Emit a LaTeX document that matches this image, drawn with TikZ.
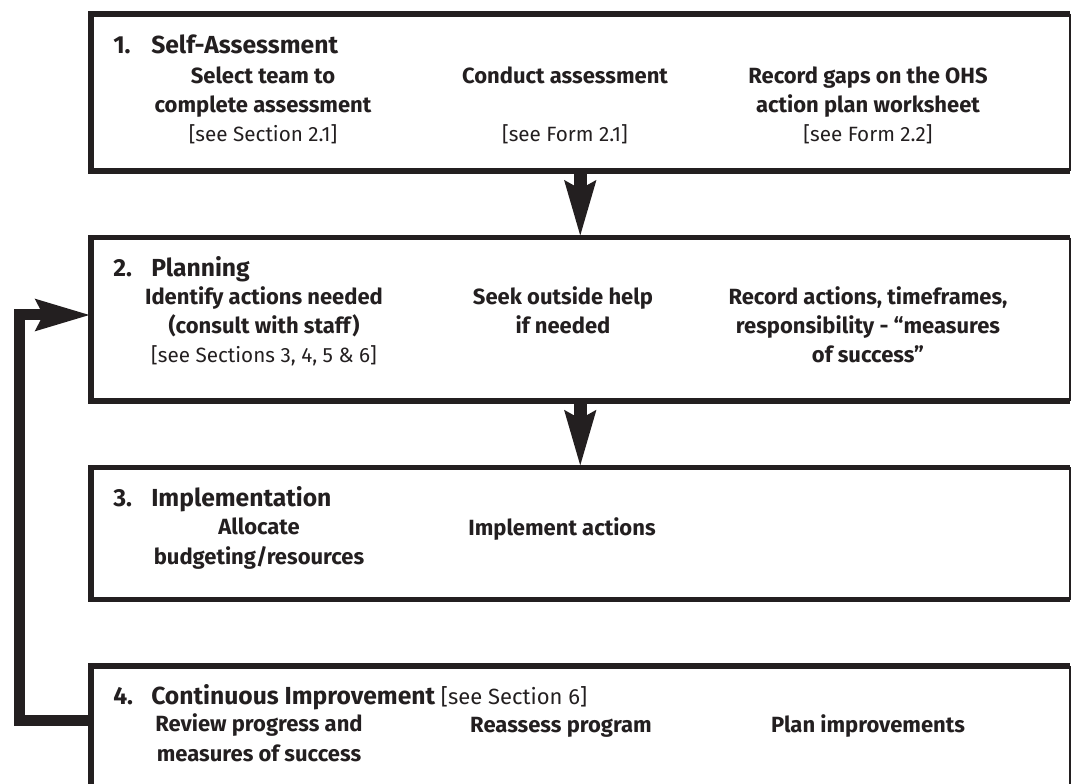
\documentclass[tikz,border=0pt]{standalone}
\usepackage{fontspec}
\setmainfont{Fira Sans}
\usetikzlibrary{arrows.meta,positioning}
\definecolor{ink}{HTML}{231F20}
\newcommand{\seeref}[2][15.5]{{\fontsize{#1}{22}\selectfont\mdseries[see #2]}}
\tikzset{
  stage/.style={minimum width=733.875pt, inner sep=0pt},
  rim/.style={draw=ink, line width=4.3pt},
  edge/.style={draw=ink, line width=1.9pt},
  heading/.style={anchor=base west, inner sep=0pt, font=\fontsize{18.5}{22}\selectfont\bfseries},
  item/.style={anchor=base, inner sep=0pt, align=center, font=\fontsize{16.5}{22}\selectfont\bfseries},
  flow/.style={draw=ink, line width=9.75pt, -{Stealth[length=41.25pt, width=21.75pt, inset=5pt]}},
  back/.style={draw=ink, line width=8.25pt, -{Stealth[length=40.5pt, width=22.5pt, inset=5pt]}},
}

\begin{document}
\begin{tikzpicture}[x=0.75pt, y=-0.75pt, text=ink, node distance=49.75pt]
        \useasboundingbox (0,0) rectangle (1072,784);
        \clip (0,0) rectangle (1072,784);
        \node[stage, minimum height=117.75pt] (self) at (580.25,92.5) {};
        \node[stage, minimum height=122.25pt, below=of self] (plan) {};
        \node[stage, minimum height=98.625pt, below=of plan] (impl) {};
        \node[stage, minimum height=101.625pt, below=of impl] (cont) {};

        \foreach \b in {self,plan,impl,cont} {
          \draw[rim] (\b.north east) -- (\b.north west) -- (\b.south west) -- (\b.south east);
          \draw[edge] (\b.north east) -- (\b.south east);
        }
        \draw[flow] (self.south) -- (plan.north);
        \draw[flow] (plan.south) -- (impl.north);
        \coordinate (low) at (19,720.5);
        \coordinate (high) at (19,315);
        \draw[back] (cont.west |- low) -- (low) -- (high) -- (plan.west |- high);

        % multi-line texts sit on the baseline of their last line
        \node[heading] (selfh) at (113,53.5) {\makebox[28.5pt][l]{1.}Self-Assessment};
        \node[item] (selfa) at (263,142) {Select team to\\complete assessment\\\seeref{Section 2.1}};
        \node[item] (selfb) at (565,142) {Conduct assessment\\[22pt]\seeref{Form 2.1}};
        \node[item] (selfc) at (868,142) {Record gaps on the OHS\\action plan worksheet\\\seeref{Form 2.2}};

        \node[heading] (planh) at (113,277) {\makebox[28.5pt][l]{2.}Planning};
        \node[item] (plana) at (264,363) {Identify actions needed\\(consult with staff)\\\seeref{Sections 3, 4, 5 \& 6}};
        \node[item] (planb) at (563,334) {Seek outside help\\if needed};
        \node[item] (planc) at (868,363) {Record actions, timeframes,\\responsibility - “measures\\of success”};

        \node[heading] (implh) at (113,506) {\makebox[28.5pt][l]{3.}Implementation};
        \node[item] (impla) at (259,564) {Allocate\\budgeting/resources};
        \node[item] (implb) at (562,535) {Implement actions};

        \node[heading] (conth) at (113,704) {\makebox[28.5pt][l]{4.}Continuous Improvement \seeref[16.5]{Section 6}};
        \node[item] (conta) at (259,761) {Review progress and\\measures of success};
        \node[item] (contb) at (561,732) {Reassess program};
        \node[item] (contc) at (868,732) {Plan improvements};
      \end{tikzpicture}
\end{document}
